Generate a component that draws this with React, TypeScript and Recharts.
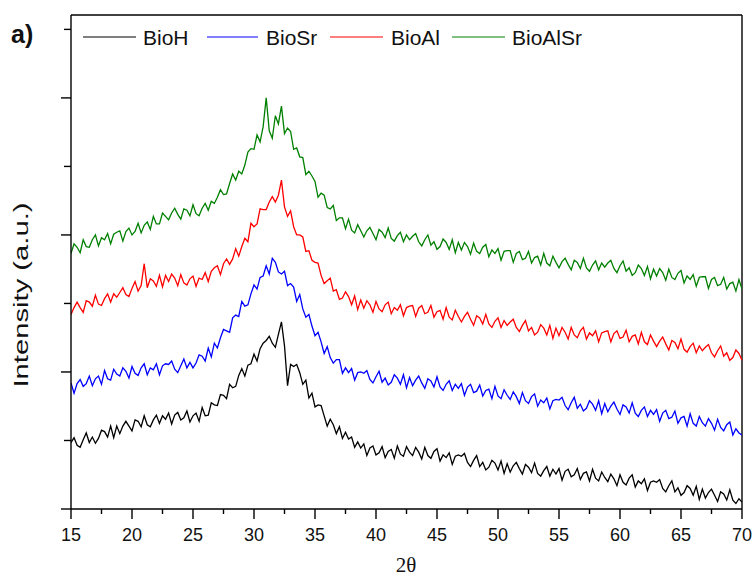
import React from 'react';
import { LineChart, Line, XAxis, YAxis, Legend, ReferenceLine } from 'recharts';

// 2θ scan positions (degrees)
const THETA2 = [
  15, 15.25, 15.5, 15.75, 16, 16.25, 16.5, 16.75, 17, 17.25, 17.5, 17.75, 18, 18.25, 18.5, 18.75,
  19, 19.25, 19.5, 19.75, 20, 20.25, 20.5, 20.75, 21, 21.25, 21.5, 21.75, 22, 22.25, 22.5, 22.75,
  23, 23.25, 23.5, 23.75, 24, 24.25, 24.5, 24.75, 25, 25.25, 25.5, 25.75, 26, 26.25, 26.5, 26.75,
  27, 27.25, 27.5, 27.75, 28, 28.25, 28.5, 28.75, 29, 29.25, 29.5, 29.75, 30, 30.25, 30.5, 30.75,
  31, 31.25, 31.5, 31.75, 32, 32.25, 32.5, 32.75, 33, 33.25, 33.5, 33.75, 34, 34.25, 34.5, 34.75,
  35, 35.25, 35.5, 35.75, 36, 36.25, 36.5, 36.75, 37, 37.25, 37.5, 37.75, 38, 38.25, 38.5, 38.75,
  39, 39.25, 39.5, 39.75, 40, 40.25, 40.5, 40.75, 41, 41.25, 41.5, 41.75, 42, 42.25, 42.5, 42.75,
  43, 43.25, 43.5, 43.75, 44, 44.25, 44.5, 44.75, 45, 45.25, 45.5, 45.75, 46, 46.25, 46.5, 46.75,
  47, 47.25, 47.5, 47.75, 48, 48.25, 48.5, 48.75, 49, 49.25, 49.5, 49.75, 50, 50.25, 50.5, 50.75,
  51, 51.25, 51.5, 51.75, 52, 52.25, 52.5, 52.75, 53, 53.25, 53.5, 53.75, 54, 54.25, 54.5, 54.75,
  55, 55.25, 55.5, 55.75, 56, 56.25, 56.5, 56.75, 57, 57.25, 57.5, 57.75, 58, 58.25, 58.5, 58.75,
  59, 59.25, 59.5, 59.75, 60, 60.25, 60.5, 60.75, 61, 61.25, 61.5, 61.75, 62, 62.25, 62.5, 62.75,
  63, 63.25, 63.5, 63.75, 64, 64.25, 64.5, 64.75, 65, 65.25, 65.5, 65.75, 66, 66.25, 66.5, 66.75,
  67, 67.25, 67.5, 67.75, 68, 68.25, 68.5, 68.75, 69, 69.25, 69.5, 69.75, 70,
];

// Intensities (a.u., with the vertical offsets used in the figure)
const BIOH = [
  97, 104, 93, 90, 101, 111, 97, 105, 96, 103, 115, 113, 105, 121, 104, 121,
  110, 121, 128, 121, 114, 130, 128, 120, 136, 123, 120, 130, 137, 125, 136, 131,
  140, 124, 137, 141, 130, 133, 143, 127, 136, 140, 128, 148, 136, 137, 155, 152,
  151, 167, 166, 161, 182, 177, 179, 195, 205, 194, 210, 212, 226, 216, 234, 242,
  246, 252, 242, 236, 255, 273, 238, 180, 211, 208, 211, 199, 182, 188, 162, 169,
  149, 152, 151, 136, 121, 131, 123, 110, 120, 103, 112, 102, 105, 90, 98, 89,
  95, 78, 89, 92, 79, 82, 91, 75, 84, 87, 74, 92, 80, 77, 91, 83,
  78, 90, 83, 73, 90, 78, 74, 84, 88, 70, 79, 75, 82, 65, 77, 79,
  77, 81, 68, 62, 71, 78, 62, 68, 57, 61, 71, 67, 57, 70, 52, 66,
  54, 63, 68, 59, 51, 65, 61, 53, 67, 52, 48, 56, 62, 48, 58, 51,
  59, 42, 55, 58, 47, 50, 59, 43, 52, 54, 41, 58, 45, 41, 54, 46,
  40, 51, 44, 34, 50, 39, 35, 45, 50, 32, 41, 37, 44, 27, 39, 41,
  39, 43, 30, 25, 34, 41, 25, 31, 20, 24, 34, 30, 20, 33, 14, 29,
  16, 24, 29, 20, 11, 25, 22, 13, 28, 13, 8, 15, 10,
];
const BIOSR = [
  184, 169, 183, 189, 179, 183, 194, 180, 190, 194, 182, 202, 190, 188, 204, 197,
  194, 206, 201, 191, 208, 198, 195, 206, 212, 196, 206, 203, 212, 196, 209, 212,
  211, 216, 204, 199, 209, 219, 206, 214, 206, 213, 225, 223, 216, 235, 222, 242,
  235, 250, 262, 260, 258, 279, 283, 281, 303, 296, 298, 314, 327, 321, 338, 340,
  355, 343, 366, 360, 346, 343, 347, 326, 329, 324, 303, 313, 292, 280, 284, 267,
  253, 258, 244, 227, 237, 221, 213, 218, 218, 198, 206, 199, 205, 188, 199, 200,
  198, 202, 189, 184, 193, 201, 185, 191, 181, 185, 196, 191, 182, 196, 177, 192,
  180, 188, 194, 184, 176, 190, 187, 178, 193, 178, 173, 182, 187, 173, 182, 176,
  183, 166, 178, 182, 170, 172, 181, 165, 173, 175, 161, 179, 165, 161, 174, 166,
  160, 171, 164, 154, 170, 158, 154, 164, 168, 150, 159, 155, 162, 146, 158, 160,
  159, 163, 151, 145, 155, 163, 147, 153, 143, 147, 158, 153, 144, 158, 139, 154,
  142, 150, 156, 146, 138, 152, 149, 140, 155, 140, 135, 144, 149, 135, 144, 138,
  145, 128, 140, 144, 132, 134, 143, 125, 133, 135, 121, 139, 125, 121, 135, 126,
  121, 132, 125, 115, 131, 119, 114, 123, 127, 108, 117, 111, 108,
];
const BIOAL = [
  284, 294, 302, 294, 287, 304, 302, 296, 312, 299, 297, 307, 314, 302, 314, 309,
  316, 323, 313, 310, 322, 332, 318, 326, 358, 323, 336, 333, 325, 341, 324, 341,
  332, 343, 337, 326, 342, 330, 327, 336, 340, 325, 337, 335, 345, 332, 347, 352,
  355, 342, 358, 365, 357, 365, 380, 369, 383, 395, 390, 417, 412, 416, 438, 437,
  437, 448, 456, 448, 458, 480, 441, 427, 435, 412, 400, 400, 397, 376, 377, 363,
  360, 359, 341, 329, 333, 337, 318, 320, 306, 308, 317, 310, 298, 311, 291, 305,
  293, 304, 298, 287, 303, 292, 288, 298, 302, 285, 294, 290, 298, 282, 294, 296,
  297, 281, 293, 297, 285, 287, 297, 280, 288, 290, 277, 294, 280, 276, 290, 281,
  273, 281, 287, 277, 268, 282, 279, 270, 284, 270, 265, 274, 279, 265, 275, 268,
  273, 277, 265, 259, 268, 275, 260, 265, 254, 258, 269, 264, 254, 268, 249, 264,
  253, 265, 258, 248, 265, 254, 250, 260, 265, 248, 257, 253, 260, 244, 257, 259,
  260, 244, 256, 260, 249, 251, 261, 244, 252, 254, 241, 258, 244, 240, 254, 245,
  237, 245, 251, 241, 232, 246, 243, 234, 248, 233, 229, 237, 242, 228, 238, 231,
  236, 240, 228, 222, 231, 238, 223, 228, 217, 221, 232, 227, 217,
];
const BIOALSR = [
  373, 387, 382, 374, 393, 383, 382, 393, 400, 384, 396, 393, 402, 387, 401, 404,
  406, 391, 405, 410, 400, 405, 417, 403, 414, 419, 408, 427, 416, 416, 432, 427,
  422, 432, 439, 430, 423, 438, 436, 428, 444, 431, 428, 439, 446, 436, 449, 446,
  455, 466, 459, 460, 475, 489, 480, 493, 489, 502, 521, 526, 525, 546, 536, 558,
  600, 552, 541, 574, 562, 588, 548, 556, 551, 525, 527, 514, 513, 488, 493, 486,
  478, 455, 461, 458, 440, 438, 443, 421, 425, 425, 409, 423, 407, 403, 415, 406,
  397, 406, 411, 402, 393, 408, 404, 396, 410, 395, 391, 399, 404, 390, 400, 393,
  398, 402, 390, 384, 393, 400, 385, 390, 379, 383, 394, 389, 379, 393, 374, 389,
  378, 389, 383, 372, 388, 376, 373, 382, 386, 368, 378, 373, 380, 363, 376, 377,
  377, 360, 373, 376, 364, 366, 376, 359, 367, 369, 356, 373, 359, 355, 369, 360,
  352, 361, 366, 357, 349, 363, 360, 351, 366, 352, 347, 356, 362, 349, 359, 353,
  359, 363, 351, 345, 355, 362, 347, 352, 341, 345, 356, 351, 341, 354, 336, 350,
  340, 351, 345, 334, 350, 338, 335, 344, 348, 330, 340, 335, 342, 325, 338, 339,
  339, 322, 335, 338, 326, 328, 338, 321, 329, 331, 318, 335, 321,
];

const SERIES = [
  { key: 'BioH', values: BIOH, color: '#000000' },
  { key: 'BioSr', values: BIOSR, color: '#0000ff' },
  { key: 'BioAl', values: BIOAL, color: '#ff0000' },
  { key: 'BioAlSr', values: BIOALSR, color: '#008000' },
];

const X_TICKS = [15, 17.5, 20, 22.5, 25, 27.5, 30, 32.5, 35, 37.5, 40, 42.5, 45, 47.5, 50, 52.5, 55, 57.5, 60, 62.5, 65, 67.5, 70];
const X_LABELS = [15, 20, 25, 30, 35, 40, 45, 50, 55, 60, 65, 70];
const Y_TICKS = [0, 100, 200, 300, 400, 500, 600, 700];
const Y_MAJOR = [0, 200, 400, 600];
const X_DOMAIN = [15, 70];
const Y_DOMAIN = [0, 721];

const data = THETA2.map((x, i) => {
  const row: Record<string, number> = { x };
  SERIES.forEach((s) => { row[s.key] = s.values[i]; });
  return row;
});

const W = 753;
const H = 578;
const PLOT_LEFT = 71;
const PLOT_BOTTOM = 509;
const FONT = '"Liberation Sans", Arial, sans-serif';
const LEGEND_POS = [
  { line: [83, 136], text: 143 },
  { line: [207, 258], text: 266 },
  { line: [330, 383], text: 391 },
  { line: [452, 505], text: 512 },
];

const XTick = (props: any) => {
  const { x, payload } = props;
  const v = payload.value;
  const major = X_LABELS.includes(v);
  return (
    <g>
      <line x1={x} x2={x} y1={PLOT_BOTTOM} y2={PLOT_BOTTOM + (major ? 10 : 5)} stroke="#000" strokeWidth={1.4} />
      {major && (
        <text x={x} y={541} textAnchor="middle" fontFamily={FONT} fontSize={18} fill="#111">
          {v}
        </text>
      )}
    </g>
  );
};

const YTick = (props: any) => {
  const { y, payload } = props;
  const major = Y_MAJOR.includes(payload.value);
  return <line x1={PLOT_LEFT - (major ? 10 : 7)} x2={PLOT_LEFT} y1={y} y2={y} stroke="#000" strokeWidth={1.4} />;
};

const LegendContent = () => (
  <svg width={W} height={60} style={{ display: 'block' }}>
    {SERIES.map((s, i) => (
      <g key={s.key}>
        <line x1={LEGEND_POS[i].line[0]} x2={LEGEND_POS[i].line[1]} y1={37} y2={37} stroke={s.color} strokeWidth={1.2} />
        <text x={LEGEND_POS[i].text} y={45} fontFamily={FONT} fontSize={21} fill="#111">{s.key}</text>
      </g>
    ))}
  </svg>
);

export default function App() {
  return (
    <div style={{ position: 'absolute', left: 0, top: 0, width: W, height: H, background: '#fff' }}>
      <LineChart width={W} height={H} data={data} margin={{ top: 15, right: 11, left: 0, bottom: 0 }}>
        <XAxis
          dataKey="x"
          type="number"
          domain={X_DOMAIN}
          ticks={X_TICKS}
          tick={<XTick />}
          tickLine={false}
          interval={0}
          height={69}
          axisLine={{ stroke: '#000', strokeWidth: 1.4 }}
          allowDataOverflow
        />
        <YAxis
          type="number"
          domain={Y_DOMAIN}
          ticks={Y_TICKS}
          tick={<YTick />}
          tickLine={false}
          interval={0}
          width={71}
          axisLine={{ stroke: '#000', strokeWidth: 1.4 }}
          allowDataOverflow
        />
        <ReferenceLine y={Y_DOMAIN[1]} stroke="#000" strokeWidth={1.4} />
        <ReferenceLine x={X_DOMAIN[1]} stroke="#000" strokeWidth={1.4} />
        <Legend
          verticalAlign="middle"
          align="center"
          layout="horizontal"
          wrapperStyle={{ position: 'absolute', left: 0, top: 0, width: W, height: 60, margin: 0 }}
          content={<LegendContent />}
        />
        {SERIES.map((s) => (
          <Line
            key={s.key}
            dataKey={s.key}
            name={s.key}
            stroke={s.color}
            strokeWidth={1.3}
            dot={false}
            activeDot={false}
            isAnimationActive={false}
            type="linear"
          />
        ))}
      </LineChart>
      <svg width={W} height={H} style={{ position: 'absolute', left: 0, top: 0, pointerEvents: 'none' }}>
        <text x={11} y={43} fontFamily={FONT} fontWeight="bold" fontSize={25} fill="#111">a)</text>
        <text
          x={28}
          y={295}
          transform="rotate(-90, 28, 295)"
          textAnchor="middle"
          fontFamily={FONT}
          fontSize={20}
          textLength={185}
          lengthAdjust="spacingAndGlyphs"
          fill="#111"
        >
          Intensity (a.u.)
        </text>
        <text x={406} y={572} textAnchor="middle" fontFamily='"Liberation Serif", "Times New Roman", serif' fontSize={21} fill="#111">
          2θ
        </text>
      </svg>
    </div>
  );
}
